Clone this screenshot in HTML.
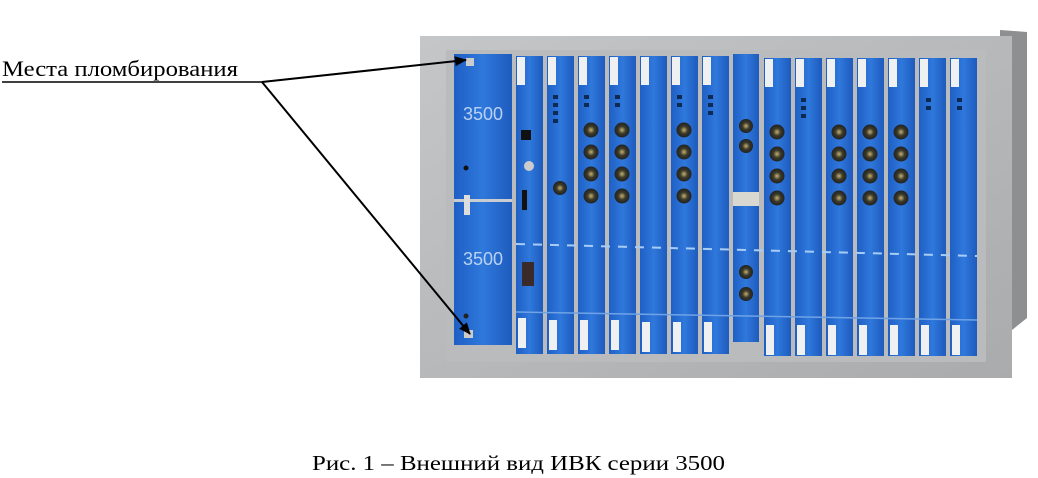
<!DOCTYPE html>
<html><head><meta charset="utf-8"><style>
html,body{margin:0;padding:0;background:#fff;}
svg{display:block;}
</style></head><body>
<svg width="1038" height="478" viewBox="0 0 1038 478" xmlns="http://www.w3.org/2000/svg">
<defs>
<linearGradient id="fr" x1="0" y1="0" x2="1" y2="1">
<stop offset="0" stop-color="#c4c6c8"/><stop offset="1" stop-color="#a9abad"/>
</linearGradient>
<linearGradient id="bl" x1="0" y1="0" x2="1" y2="0">
<stop offset="0" stop-color="#1f5fc4"/><stop offset="0.5" stop-color="#2f78dc"/><stop offset="1" stop-color="#1e5bbd"/>
</linearGradient>
<radialGradient id="cn"><stop offset="0" stop-color="#c8b070"/><stop offset="0.5" stop-color="#3a3a2a"/><stop offset="1" stop-color="#222"/></radialGradient>
<marker id="ah" markerWidth="12" markerHeight="10" refX="11" refY="5" orient="auto" markerUnits="userSpaceOnUse">
<path d="M0,0 L12,5 L0,10 z" fill="#000"/></marker>
</defs>
<path d="M1000,30 L1027,32 L1027,318 L1012,330 L1000,330 z" fill="#8d8f91"/>
<rect x="420" y="36" width="592" height="342" fill="url(#fr)"/>
<rect x="446" y="50" width="540" height="312" fill="#b9bbbd"/>
<rect x="454" y="54" width="58" height="145" fill="url(#bl)"/>
<rect x="454" y="202" width="58" height="143" fill="url(#bl)"/>
<rect x="454" y="199" width="58" height="3" fill="#c9ccd0"/>
<text x="483" y="120" font-family="Liberation Sans,sans-serif" font-size="18" fill="#b9d2f3" text-anchor="middle">3500</text>
<text x="483" y="265" font-family="Liberation Sans,sans-serif" font-size="18" fill="#b9d2f3" text-anchor="middle">3500</text>
<circle cx="466" cy="168" r="2.5" fill="#111"/>
<circle cx="466" cy="316" r="2.5" fill="#222"/>
<rect x="466" y="58" width="8" height="8" fill="#ccc"/>
<rect x="464" y="330" width="9" height="8" fill="#ccc"/>
<rect x="464" y="195" width="6" height="20" fill="#ddd"/>
<g>
<rect x="516" y="56" width="27" height="298" fill="url(#bl)"/>
<rect x="547" y="56" width="27" height="298" fill="url(#bl)"/>
<rect x="578" y="56" width="27" height="298" fill="url(#bl)"/>
<rect x="609" y="56" width="27" height="298" fill="url(#bl)"/>
<rect x="640" y="56" width="27" height="298" fill="url(#bl)"/>
<rect x="671" y="56" width="27" height="298" fill="url(#bl)"/>
<rect x="702" y="56" width="27" height="298" fill="url(#bl)"/>
<rect x="733" y="54" width="26" height="288" fill="url(#bl)"/>
<rect x="764" y="58" width="27" height="298" fill="url(#bl)"/>
<rect x="795" y="58" width="27" height="298" fill="url(#bl)"/>
<rect x="826" y="58" width="27" height="298" fill="url(#bl)"/>
<rect x="857" y="58" width="27" height="298" fill="url(#bl)"/>
<rect x="888" y="58" width="27" height="298" fill="url(#bl)"/>
<rect x="919" y="58" width="27" height="298" fill="url(#bl)"/>
<rect x="950" y="58" width="27" height="298" fill="url(#bl)"/>
</g>
<g fill="#eef0f2">
<rect x="517" y="57" width="8" height="28"/><rect x="548" y="57" width="8" height="28"/><rect x="579" y="57" width="8" height="28"/><rect x="610" y="57" width="8" height="28"/><rect x="641" y="57" width="8" height="28"/><rect x="672" y="57" width="8" height="28"/><rect x="703" y="57" width="8" height="28"/><rect x="765" y="59" width="8" height="28"/><rect x="796" y="59" width="8" height="28"/><rect x="827" y="59" width="8" height="28"/><rect x="858" y="59" width="8" height="28"/><rect x="889" y="59" width="8" height="28"/><rect x="920" y="59" width="8" height="28"/><rect x="951" y="59" width="8" height="28"/>
<rect x="518" y="318" width="8" height="30"/><rect x="549" y="320" width="8" height="30"/><rect x="580" y="320" width="8" height="30"/><rect x="611" y="320" width="8" height="30"/><rect x="642" y="322" width="8" height="30"/><rect x="673" y="322" width="8" height="30"/><rect x="704" y="322" width="8" height="30"/><rect x="766" y="325" width="8" height="30"/><rect x="797" y="325" width="8" height="30"/><rect x="828" y="325" width="8" height="30"/><rect x="859" y="325" width="8" height="30"/><rect x="890" y="325" width="8" height="30"/><rect x="921" y="325" width="8" height="30"/><rect x="952" y="325" width="8" height="30"/>
<rect x="733" y="192" width="26" height="14" fill="#d8d8d0"/>
</g>
<line x1="516" y1="244" x2="977" y2="256" stroke="#a8cdf5" stroke-width="2" stroke-dasharray="9,8"/>
<line x1="516" y1="312" x2="977" y2="320" stroke="#6fa3e6" stroke-width="1.5"/>
<g fill="#0d2a55">
<rect x="553" y="95" width="5" height="4"/><rect x="553" y="103" width="5" height="4"/><rect x="553" y="111" width="5" height="4"/><rect x="553" y="119" width="5" height="4"/>
<rect x="584" y="95" width="5" height="4"/><rect x="584" y="103" width="5" height="4"/>
<rect x="615" y="95" width="5" height="4"/><rect x="615" y="103" width="5" height="4"/>
<rect x="677" y="95" width="5" height="4"/><rect x="677" y="103" width="5" height="4"/>
<rect x="708" y="95" width="5" height="4"/><rect x="708" y="103" width="5" height="4"/><rect x="708" y="111" width="5" height="4"/>
<rect x="801" y="98" width="5" height="4"/><rect x="801" y="106" width="5" height="4"/><rect x="801" y="114" width="5" height="4"/>
<rect x="926" y="98" width="5" height="4"/><rect x="926" y="106" width="5" height="4"/>
<rect x="957" y="98" width="5" height="4"/><rect x="957" y="106" width="5" height="4"/>
<rect x="521" y="130" width="10" height="10" fill="#111"/>
<rect x="522" y="262" width="12" height="24" fill="#3a2a2a"/>
<rect x="522" y="190" width="5" height="20" fill="#111"/>
</g>
<g fill="url(#cn)">
<circle cx="591" cy="130" r="7.5"/><circle cx="591" cy="152" r="7.5"/><circle cx="591" cy="174" r="7.5"/><circle cx="591" cy="196" r="7.5"/>
<circle cx="622" cy="130" r="7.5"/><circle cx="622" cy="152" r="7.5"/><circle cx="622" cy="174" r="7.5"/><circle cx="622" cy="196" r="7.5"/>
<circle cx="560" cy="188" r="7"/>
<circle cx="684" cy="130" r="7.5"/><circle cx="684" cy="152" r="7.5"/><circle cx="684" cy="174" r="7.5"/><circle cx="684" cy="196" r="7.5"/>
<circle cx="746" cy="126" r="7"/><circle cx="746" cy="146" r="7"/>
<circle cx="746" cy="272" r="7"/><circle cx="746" cy="294" r="7"/>
<circle cx="777" cy="132" r="7.5"/><circle cx="777" cy="154" r="7.5"/><circle cx="777" cy="176" r="7.5"/><circle cx="777" cy="198" r="7.5"/>
<circle cx="839" cy="132" r="7.5"/><circle cx="839" cy="154" r="7.5"/><circle cx="839" cy="176" r="7.5"/><circle cx="839" cy="198" r="7.5"/>
<circle cx="870" cy="132" r="7.5"/><circle cx="870" cy="154" r="7.5"/><circle cx="870" cy="176" r="7.5"/><circle cx="870" cy="198" r="7.5"/>
<circle cx="901" cy="132" r="7.5"/><circle cx="901" cy="154" r="7.5"/><circle cx="901" cy="176" r="7.5"/><circle cx="901" cy="198" r="7.5"/>
<circle cx="529" cy="166" r="5" fill="#ccc"/>
</g>
<text x="2" y="76" font-family="Liberation Serif,serif" font-size="22" fill="#000" textLength="236" lengthAdjust="spacingAndGlyphs">Места пломбирования</text>
<line x1="2" y1="82" x2="262" y2="82" stroke="#000" stroke-width="1.5"/>
<line x1="262" y1="82" x2="466" y2="60" stroke="#000" stroke-width="2" marker-end="url(#ah)"/>
<line x1="262" y1="82" x2="470" y2="334" stroke="#000" stroke-width="2" marker-end="url(#ah)"/>
<text x="312" y="470" font-family="Liberation Serif,serif" font-size="21" fill="#000" textLength="413" lengthAdjust="spacingAndGlyphs">Рис. 1 – Внешний вид ИВК серии 3500</text>
</svg>
</body></html>
